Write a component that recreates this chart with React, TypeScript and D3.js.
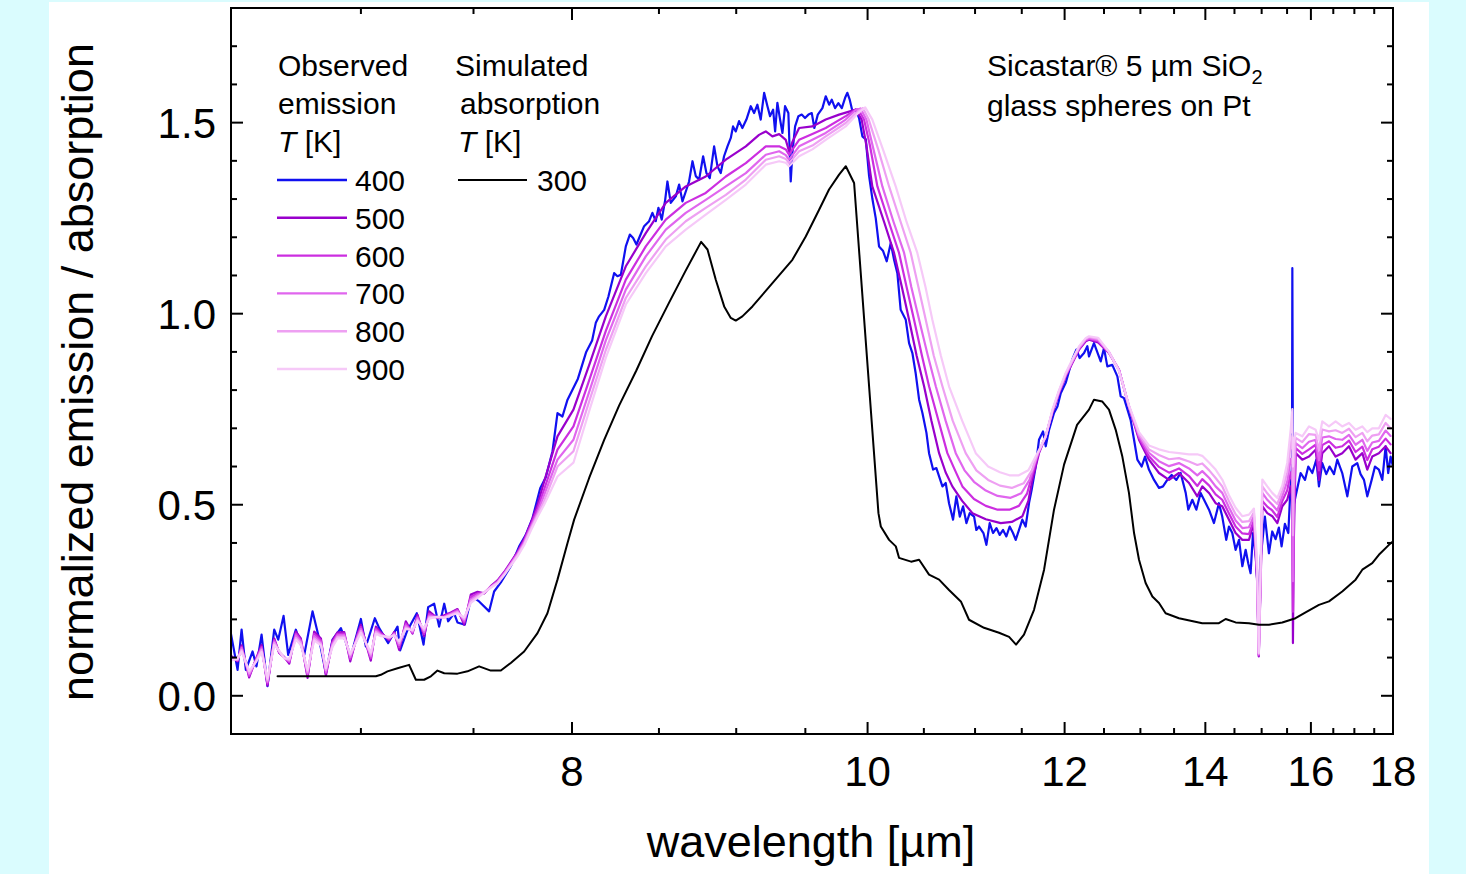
import React from 'react';
import * as d3 from 'd3';

const W = 1466;
const H = 874;
const FONT = '"Liberation Sans", Arial, Helvetica, sans-serif';

// ---- axis ticks (wavelength in µm, reciprocal axis) ----
const xTickMajor = [8, 10, 12, 14, 16, 18];
const xTickMinor = [7, 7.5, 8.5, 9, 9.5, 10.5, 11, 11.5, 12.5, 13, 13.5, 14.5, 15, 15.5, 16.5, 17, 17.5];
const yTickMajor = [0, 0.5, 1.0, 1.5];
const yTickLabels = ['0.0', '0.5', '1.0', '1.5'];
const yTickMinor = [0.1, 0.2, 0.3, 0.4, 0.6, 0.7, 0.8, 0.9, 1.1, 1.2, 1.3, 1.4, 1.6, 1.7];

// ---- legend ----
const obsTemps = ['400', '500', '600', '700', '800', '900'];
const obsColors = ['#1010f0', '#9900cc', '#cc2ee0', '#e066ee', '#eea0f2', '#f6c9f8'];
const simTemps = ['300'];

// ---- data: x = wavenumber [cm^-1], y = normalized emission / absorption ----
// low-wavenumber-side grid (6.5 – 7.85 µm) shared by 500–900 K
const nuLow = [1538.6, 1532.9, 1529.5, 1523.1, 1517.4, 1512.6, 1507.6, 1501.9, 1497.7, 1493.5, 1489.2, 1483.6, 1479.4, 1473.7, 1468.1, 1462.4, 1458.2, 1452.6, 1448.4, 1442.7, 1437.6, 1431.4, 1428.6, 1420.2, 1415.9, 1411.7, 1404.7, 1400.4, 1396.2, 1390.6, 1384.9, 1380.7, 1375.1, 1370.8, 1363.8, 1358.1, 1352.5, 1346.9, 1341.2, 1335.6, 1329.9, 1324.3, 1318.7, 1313.0, 1307.4, 1301.8, 1296.1, 1290.5, 1284.9, 1279.2, 1273.6];
const low500 = [0.105, 0.090, 0.132, 0.048, 0.096, 0.133, 0.027, 0.150, 0.112, 0.102, 0.084, 0.168, 0.150, 0.047, 0.168, 0.150, 0.052, 0.145, 0.166, 0.167, 0.090, 0.163, 0.186, 0.092, 0.181, 0.166, 0.145, 0.167, 0.120, 0.195, 0.163, 0.212, 0.156, 0.221, 0.203, 0.211, 0.218, 0.227, 0.186, 0.265, 0.272, 0.268, 0.287, 0.302, 0.324, 0.350, 0.377, 0.410, 0.452, 0.500, 0.560];
const low600 = [0.100, 0.092, 0.128, 0.052, 0.094, 0.128, 0.032, 0.146, 0.113, 0.100, 0.088, 0.163, 0.146, 0.053, 0.162, 0.145, 0.058, 0.140, 0.162, 0.163, 0.096, 0.159, 0.180, 0.098, 0.176, 0.163, 0.148, 0.164, 0.127, 0.189, 0.165, 0.207, 0.162, 0.215, 0.204, 0.208, 0.216, 0.225, 0.192, 0.259, 0.268, 0.269, 0.286, 0.300, 0.322, 0.347, 0.374, 0.406, 0.446, 0.490, 0.540];
const low700 = [0.098, 0.094, 0.125, 0.056, 0.092, 0.124, 0.036, 0.142, 0.115, 0.100, 0.091, 0.158, 0.142, 0.058, 0.156, 0.140, 0.063, 0.136, 0.158, 0.159, 0.101, 0.155, 0.175, 0.103, 0.171, 0.160, 0.150, 0.162, 0.133, 0.184, 0.167, 0.203, 0.167, 0.210, 0.205, 0.206, 0.214, 0.222, 0.197, 0.253, 0.264, 0.270, 0.285, 0.298, 0.320, 0.345, 0.371, 0.402, 0.441, 0.480, 0.525];
const low800 = [0.095, 0.095, 0.120, 0.060, 0.090, 0.120, 0.040, 0.138, 0.117, 0.099, 0.094, 0.152, 0.138, 0.063, 0.150, 0.136, 0.068, 0.132, 0.154, 0.155, 0.106, 0.151, 0.170, 0.108, 0.167, 0.158, 0.152, 0.160, 0.138, 0.179, 0.170, 0.199, 0.172, 0.206, 0.206, 0.205, 0.212, 0.219, 0.201, 0.248, 0.260, 0.270, 0.284, 0.296, 0.318, 0.343, 0.368, 0.398, 0.437, 0.474, 0.510];
const low900 = [0.092, 0.097, 0.116, 0.065, 0.088, 0.115, 0.045, 0.133, 0.118, 0.098, 0.097, 0.147, 0.133, 0.068, 0.145, 0.132, 0.073, 0.128, 0.150, 0.151, 0.110, 0.148, 0.165, 0.113, 0.163, 0.156, 0.154, 0.158, 0.143, 0.175, 0.172, 0.196, 0.176, 0.202, 0.207, 0.204, 0.210, 0.216, 0.205, 0.243, 0.256, 0.270, 0.283, 0.294, 0.316, 0.340, 0.365, 0.394, 0.432, 0.468, 0.500];

// band region (7.9 – 12.3 µm), per series
const mid500: [number, number][] = [[1262.3, 0.679], [1248.8, 0.749], [1235, 0.87], [1221.4, 0.993], [1204.5, 1.124], [1187.6, 1.211], [1170.7, 1.290], [1153.8, 1.333], [1136.9, 1.359], [1119.9, 1.403], [1103.0, 1.438], [1091.8, 1.468], [1086.1, 1.477], [1080.5, 1.464], [1074.8, 1.47], [1069.2, 1.455], [1066.4, 1.425], [1063.5, 1.45], [1057.9, 1.486], [1046.7, 1.490], [1035.4, 1.508], [1024.1, 1.521], [1010, 1.534], [1005, 1.508], [1001, 1.44], [996, 1.333], [986, 1.24], [977.6, 1.159], [971, 1.07], [964.9, 0.984], [958.5, 0.89], [952.2, 0.810], [946, 0.72], [939.5, 0.635], [934, 0.585], [928.3, 0.548], [920, 0.51], [911.3, 0.478], [900, 0.462], [887.4, 0.452], [878, 0.455], [869, 0.47], [864, 0.51], [860.6, 0.565], [855, 0.635], [849.3, 0.679], [843.7, 0.740], [838, 0.792], [832.4, 0.836], [826.8, 0.871], [821.1, 0.906], [815.5, 0.928]];
const mid600: [number, number][] = [[1262.3, 0.644], [1248.8, 0.705], [1235, 0.83], [1221.4, 0.955], [1204.5, 1.089], [1187.6, 1.176], [1170.7, 1.246], [1153.8, 1.290], [1136.9, 1.316], [1119.9, 1.359], [1103.0, 1.394], [1086.1, 1.438], [1074.8, 1.438], [1069.2, 1.43], [1066.4, 1.416], [1063.5, 1.43], [1057.9, 1.455], [1046.7, 1.47], [1035.4, 1.486], [1018.5, 1.517], [1010, 1.534], [1008, 1.535], [1003, 1.508], [998, 1.44], [991.7, 1.333], [982, 1.24], [973.4, 1.159], [967, 1.07], [960.7, 0.984], [954, 0.89], [948, 0.810], [940, 0.72], [932.5, 0.635], [926, 0.59], [919.8, 0.548], [910, 0.515], [900, 0.497], [890, 0.487], [880, 0.487], [872, 0.497], [865, 0.53], [860.6, 0.58], [855, 0.64], [849.3, 0.679], [843.7, 0.742], [838, 0.794], [832.4, 0.838], [826.8, 0.873], [821.1, 0.908], [815.5, 0.930]];
const mid700: [number, number][] = [[1262.3, 0.618], [1248.8, 0.67], [1235, 0.80], [1221.4, 0.93], [1204.5, 1.063], [1187.6, 1.150], [1170.7, 1.220], [1153.8, 1.264], [1136.9, 1.298], [1119.9, 1.333], [1103.0, 1.368], [1086.1, 1.416], [1074.8, 1.425], [1069.2, 1.415], [1066.4, 1.403], [1063.5, 1.415], [1057.9, 1.438], [1046.7, 1.455], [1035.4, 1.473], [1018.5, 1.508], [1010, 1.533], [1006, 1.537], [1001, 1.508], [995, 1.43], [987.5, 1.333], [978, 1.24], [969.1, 1.159], [963, 1.07], [956.4, 0.984], [949, 0.89], [942.3, 0.810], [934, 0.72], [925.4, 0.635], [918, 0.59], [910, 0.56], [900, 0.537], [890, 0.523], [879, 0.518], [870, 0.53], [863, 0.565], [857, 0.625], [849.3, 0.679], [843.7, 0.744], [838, 0.796], [832.4, 0.84], [826.8, 0.875], [821.1, 0.91], [815.5, 0.932]];
const mid800: [number, number][] = [[1262.3, 0.600], [1248.8, 0.64], [1235, 0.775], [1221.4, 0.905], [1204.5, 1.041], [1187.6, 1.124], [1170.7, 1.194], [1153.8, 1.242], [1136.9, 1.277], [1119.9, 1.311], [1103.0, 1.351], [1086.1, 1.403], [1074.8, 1.412], [1069.2, 1.405], [1066.4, 1.394], [1063.5, 1.405], [1057.9, 1.425], [1046.7, 1.44], [1035.4, 1.464], [1018.5, 1.499], [1008, 1.53], [1004, 1.538], [999, 1.508], [991, 1.43], [981.8, 1.333], [972, 1.24], [963.5, 1.159], [957, 1.07], [950.8, 0.984], [944, 0.89], [936.7, 0.810], [928, 0.72], [917, 0.635], [908, 0.59], [898, 0.565], [888, 0.55], [878, 0.544], [868, 0.556], [861, 0.59], [856, 0.635], [849.3, 0.679], [843.7, 0.746], [838, 0.798], [832.4, 0.842], [826.8, 0.877], [821.1, 0.912], [815.5, 0.934]];
const mid900: [number, number][] = [[1262.3, 0.574], [1248.8, 0.61], [1235, 0.75], [1221.4, 0.885], [1204.5, 1.024], [1187.6, 1.106], [1170.7, 1.176], [1153.8, 1.220], [1136.9, 1.259], [1119.9, 1.298], [1103.0, 1.338], [1086.1, 1.390], [1074.8, 1.399], [1069.2, 1.395], [1066.4, 1.386], [1063.5, 1.395], [1057.9, 1.412], [1046.7, 1.43], [1035.4, 1.455], [1018.5, 1.490], [1008, 1.525], [1002, 1.54], [996, 1.508], [987, 1.43], [976.2, 1.333], [967, 1.24], [957.9, 1.159], [951, 1.07], [945.2, 0.984], [938, 0.89], [931.1, 0.810], [920, 0.72], [908.5, 0.635], [898, 0.60], [888, 0.585], [880, 0.577], [872, 0.577], [864, 0.59], [858, 0.625], [853, 0.655], [849.3, 0.679], [843.7, 0.748], [838, 0.80], [832.4, 0.845], [826.8, 0.88], [821.1, 0.915], [815.5, 0.936]];

// long-wavelength grid (12.3 – 18 µm) shared by 500–900 K
const nuHigh = [812.7, 805, 795.8, 787.3, 778.9, 770.4, 762, 753.5, 745, 736.6, 728.1, 721.1, 716.9, 711, 705.6, 700, 694.3, 688.7, 683, 677.4, 673.2, 670.5, 669.1, 667.5, 666.1, 661.9, 657.7, 653.4, 649.2, 645, 642, 640.7, 640.2, 639.5, 637.9, 632.3, 626.6, 621, 618.2, 615.4, 609.7, 604.1, 598.5, 592.8, 587.2, 581.5, 577.3, 573.1, 567.5, 561.8, 557.6];
const high500 = [0.932, 0.925, 0.897, 0.853, 0.757, 0.670, 0.618, 0.583, 0.565, 0.583, 0.557, 0.522, 0.548, 0.53, 0.504, 0.496, 0.461, 0.426, 0.408, 0.408, 0.452, 0.30, 0.103, 0.30, 0.496, 0.478, 0.470, 0.452, 0.496, 0.513, 0.548, 0.50, 0.138, 0.40, 0.635, 0.618, 0.626, 0.644, 0.565, 0.635, 0.653, 0.626, 0.635, 0.653, 0.618, 0.635, 0.592, 0.626, 0.635, 0.653, 0.635];
const high600 = [0.934, 0.928, 0.898, 0.852, 0.757, 0.675, 0.627, 0.599, 0.584, 0.595, 0.575, 0.549, 0.567, 0.55, 0.527, 0.513, 0.477, 0.443, 0.425, 0.423, 0.46, 0.31, 0.106, 0.31, 0.51, 0.495, 0.485, 0.468, 0.51, 0.538, 0.585, 0.56, 0.22, 0.46, 0.648, 0.633, 0.645, 0.657, 0.59, 0.656, 0.666, 0.649, 0.653, 0.668, 0.638, 0.652, 0.617, 0.645, 0.652, 0.673, 0.658];
const high700 = [0.936, 0.931, 0.899, 0.852, 0.758, 0.68, 0.636, 0.614, 0.601, 0.609, 0.595, 0.577, 0.588, 0.57, 0.548, 0.531, 0.493, 0.459, 0.439, 0.441, 0.471, 0.32, 0.108, 0.32, 0.531, 0.513, 0.50, 0.485, 0.523, 0.561, 0.62, 0.62, 0.30, 0.53, 0.661, 0.648, 0.665, 0.67, 0.617, 0.676, 0.679, 0.672, 0.67, 0.683, 0.657, 0.67, 0.641, 0.663, 0.667, 0.694, 0.68];
const high800 = [0.939, 0.934, 0.90, 0.851, 0.759, 0.685, 0.645, 0.63, 0.619, 0.622, 0.613, 0.604, 0.608, 0.59, 0.57, 0.548, 0.509, 0.475, 0.455, 0.457, 0.48, 0.33, 0.11, 0.33, 0.548, 0.53, 0.515, 0.502, 0.537, 0.585, 0.66, 0.68, 0.42, 0.60, 0.675, 0.664, 0.685, 0.683, 0.643, 0.697, 0.692, 0.695, 0.688, 0.699, 0.677, 0.688, 0.666, 0.681, 0.684, 0.714, 0.70];
const high900 = [0.941, 0.937, 0.90, 0.85, 0.76, 0.69, 0.655, 0.645, 0.638, 0.635, 0.632, 0.632, 0.628, 0.61, 0.592, 0.566, 0.525, 0.492, 0.47, 0.474, 0.49, 0.35, 0.112, 0.35, 0.566, 0.548, 0.531, 0.518, 0.55, 0.61, 0.70, 0.75, 0.60, 0.66, 0.688, 0.679, 0.705, 0.696, 0.67, 0.718, 0.705, 0.718, 0.705, 0.714, 0.696, 0.705, 0.69, 0.70, 0.70, 0.735, 0.725];

// observed emission 400 K
const obs400: [number, number][] = [
  [1538.6, 0.164], [1532.9, 0.068], [1529.5, 0.173], [1525.9, 0.068], [1520.2, 0.116], [1516.9, 0.077], [1512.6, 0.160], [1507.6, 0.025], [1501.9, 0.173], [1498.5, 0.147], [1494.0, 0.209], [1490.1, 0.107], [1483.6, 0.173], [1476.5, 0.107], [1469.5, 0.221], [1464.7, 0.160], [1458.2, 0.059], [1452.6, 0.147], [1445.5, 0.177], [1437.1, 0.103], [1428.6, 0.201], [1424.4, 0.129], [1416.8, 0.203], [1413.1, 0.177], [1405.5, 0.138], [1397.6, 0.181], [1395.4, 0.119], [1389.7, 0.168], [1381.3, 0.216], [1375.6, 0.134], [1371.7, 0.232], [1366.6, 0.241], [1362.4, 0.181], [1358.1, 0.241], [1354.8, 0.195], [1349.7, 0.216], [1346.9, 0.192], [1340.7, 0.186], [1335.0, 0.260], [1328.6, 0.247], [1320.1, 0.221], [1315.9, 0.273], [1310.2, 0.297], [1301.8, 0.339], [1294.7, 0.391], [1289.1, 0.421], [1283.4, 0.465], [1276.9, 0.543], [1272.2, 0.572], [1266.5, 0.640], [1262.3, 0.740], [1258.1, 0.731], [1253.8, 0.775], [1245, 0.83], [1238, 0.90], [1233, 0.93],
  [1229.9, 0.976], [1227.1, 0.993], [1222.8, 1.010], [1219.2, 1.045], [1214.4, 1.106], [1211.6, 1.098], [1208.7, 1.102], [1204.5, 1.176], [1201.1, 1.207], [1198.3, 1.198], [1195.5, 1.181], [1192.7, 1.202], [1189.0, 1.229], [1184.8, 1.242], [1182.0, 1.264], [1179.2, 1.242], [1176.9, 1.277], [1174.1, 1.246], [1171.2, 1.298], [1169.3, 1.346], [1166.5, 1.290], [1162.2, 1.307], [1159.4, 1.338], [1156.6, 1.294], [1153.2, 1.325], [1151.0, 1.346], [1148.1, 1.399], [1145.3, 1.360], [1142.5, 1.351], [1139.1, 1.412], [1136.3, 1.368], [1133.5, 1.355], [1129.8, 1.438], [1127.0, 1.386], [1124.2, 1.368], [1121.4, 1.412], [1118.5, 1.438], [1115.7, 1.460], [1113.8, 1.490], [1111.5, 1.477], [1108.7, 1.504], [1105.9, 1.486], [1102.5, 1.508], [1098.8, 1.543], [1096.0, 1.525], [1093.2, 1.547], [1090.4, 1.508], [1087.5, 1.578], [1084.7, 1.543], [1082.5, 1.517], [1079.9, 1.534], [1078.2, 1.477], [1076.3, 1.552], [1074.0, 1.508], [1072.0, 1.473], [1069.8, 1.543], [1067.0, 1.525], [1065.0, 1.346], [1063.6, 1.421], [1061.3, 1.490], [1058.5, 1.517], [1055.7, 1.521], [1052.9, 1.512], [1050.0, 1.521], [1047.2, 1.525], [1045.0, 1.486], [1042.1, 1.521], [1038.2, 1.538], [1035.4, 1.569], [1032.5, 1.547], [1030.3, 1.560], [1027.5, 1.538], [1024.7, 1.551], [1021.8, 1.538], [1019.0, 1.565], [1017.1, 1.578], [1015.1, 1.560], [1012.8, 1.530], [1010.0, 1.534],
  [1007.2, 1.512], [1004.4, 1.464], [1001.5, 1.456], [998.7, 1.36], [995.9, 1.30], [993.1, 1.25], [990.3, 1.176], [987, 1.165], [983.8, 1.137], [980.4, 1.185], [977.5, 1.14], [974.8, 1.106], [972.0, 1.010], [967.7, 0.984], [964.9, 0.923], [962.1, 0.897], [959.3, 0.844], [956.4, 0.775], [953.6, 0.740], [950.2, 0.688], [948.0, 0.635], [944.6, 0.592], [941.8, 0.596], [939.5, 0.574], [936.7, 0.548], [933.9, 0.557], [931.1, 0.504], [927.7, 0.461], [924.9, 0.522], [922.0, 0.469], [919.2, 0.496], [916.4, 0.452], [913.6, 0.478], [909.9, 0.469], [908.0, 0.434], [905.7, 0.443], [902.0, 0.426], [899.5, 0.395], [896.7, 0.452], [893.9, 0.426], [891.0, 0.439], [888.2, 0.421], [885.4, 0.434], [882.6, 0.417], [879.8, 0.443], [877.0, 0.426], [874.7, 0.408], [871.9, 0.434], [869.1, 0.461], [866.3, 0.443], [863.4, 0.505], [861.2, 0.539], [857.8, 0.600], [855.0, 0.670], [851.6, 0.692], [849.3, 0.653], [846.5, 0.696], [842.3, 0.740], [839.4, 0.757], [836.6, 0.792], [832.4, 0.819], [826.8, 0.880], [823.4, 0.906], [820.6, 0.884], [816.9, 0.897], [814.1, 0.915],
  [812.7, 0.888], [808.5, 0.923], [802.8, 0.875], [800, 0.910], [797.2, 0.862], [793, 0.866], [788.7, 0.836], [785.9, 0.784], [783.1, 0.779], [777.5, 0.722], [774.6, 0.670], [771.8, 0.618], [768.2, 0.600], [765.3, 0.626], [762, 0.592], [757.7, 0.565], [753.5, 0.544], [750.1, 0.548], [746.5, 0.565], [742.8, 0.578], [738.8, 0.565], [735.2, 0.583], [730.9, 0.531], [728.7, 0.487], [725.3, 0.513], [721.9, 0.487], [718.3, 0.531], [715.4, 0.513], [711.2, 0.487], [707, 0.452], [702.8, 0.504], [700, 0.469], [696.6, 0.408], [694.3, 0.443], [691.5, 0.426], [688.7, 0.382], [685.8, 0.408], [683, 0.339], [680.2, 0.382], [678, 0.347], [676, 0.321], [674, 0.426], [671.5, 0.36], [669.5, 0.25], [667.5, 0.36], [663.9, 0.469], [660.5, 0.373], [657.7, 0.43], [654.9, 0.41], [652.1, 0.44], [649.8, 0.391], [647, 0.45], [644.1, 0.426], [642.2, 0.55], [641, 0.60], [640.7, 1.119], [640.2, 0.60], [639.5, 0.50], [637.4, 0.530], [633.7, 0.583], [630.0, 0.565], [627.2, 0.600], [623.8, 0.583], [620.4, 0.618], [618.2, 0.548], [615.4, 0.609], [612, 0.58], [609.2, 0.600], [605.5, 0.58], [602.7, 0.618], [598.5, 0.583], [594.2, 0.522], [590.0, 0.600], [585.8, 0.609], [583, 0.58], [580.1, 0.565], [577.3, 0.522], [573.6, 0.565], [570.8, 0.60], [567.5, 0.592], [564.6, 0.565], [561.8, 0.653], [559.6, 0.583], [557.6, 0.626], [555.6, 0.60],
];

// simulated absorption 300 K
const sim300: [number, number][] = [
  [1499.1, 0.051], [1415.9, 0.051], [1411.7, 0.055], [1406.1, 0.064], [1397.6, 0.072], [1387.8, 0.081], [1382.1, 0.042], [1375.1, 0.042], [1369.4, 0.051], [1363.8, 0.066], [1358.1, 0.059], [1346.9, 0.058], [1338.4, 0.064], [1328.6, 0.077], [1318.7, 0.066], [1310.2, 0.066], [1301.8, 0.086], [1290.5, 0.116], [1279.2, 0.164], [1270.8, 0.216], [1262.3, 0.304], [1253.8, 0.400], [1248.2, 0.461], [1235.5, 0.570], [1222.8, 0.670], [1210.1, 0.760], [1195.8, 0.850], [1182.2, 0.942], [1167.9, 1.029], [1154.3, 1.110], [1140.8, 1.188], [1135.4, 1.168], [1128.4, 1.089], [1121.3, 1.019], [1115.7, 0.989], [1111.5, 0.982], [1105.9, 0.993], [1097.4, 1.019], [1080.5, 1.080], [1063.6, 1.141], [1052.3, 1.202], [1041.0, 1.272], [1032.6, 1.325], [1024.1, 1.364], [1018.4, 1.386], [1011.4, 1.342], [990.8, 0.478], [988.8, 0.443], [981.8, 0.408], [976.1, 0.391], [973.4, 0.361], [963.2, 0.351], [956.4, 0.356], [948.0, 0.317], [939.5, 0.304], [931.1, 0.277], [920.9, 0.246], [914.2, 0.199], [901.5, 0.178], [888.8, 0.165], [880.3, 0.154], [874.4, 0.134], [867.7, 0.160], [859.2, 0.225], [850.7, 0.330], [842.3, 0.487], [833.8, 0.605], [822.8, 0.709], [812.7, 0.749], [808.5, 0.775], [801.4, 0.770], [795.8, 0.749], [790.1, 0.696], [784.5, 0.626], [778.9, 0.531], [774.6, 0.426], [770.4, 0.356], [764.8, 0.295], [759.1, 0.260], [753.5, 0.243], [747.9, 0.216], [736.6, 0.203], [716.9, 0.190], [702.8, 0.190], [697.1, 0.201], [688.7, 0.192], [677.4, 0.190], [668.9, 0.186], [660.5, 0.186], [649.2, 0.192], [638.0, 0.203], [629.5, 0.218], [618.2, 0.238], [609.7, 0.247], [598.5, 0.273], [587.2, 0.304], [581.5, 0.330], [573.1, 0.347], [567.5, 0.369], [559.0, 0.395], [555.6, 0.404],
];

const zip = (nu: number[], v: number[]): [number, number][] => {
  const n = Math.min(nu.length, v.length);
  const out: [number, number][] = [];
  for (let i = 0; i < n; i++) out.push([nu[i], v[i]]);
  return out;
};

export default function App() {
  const left = 231, right = 1393, top = 8, bottom = 734;
  // reciprocal wavelength axis = linear in wavenumber
  const x = d3.scaleLinear().domain([10000 / 6.5, 10000 / 18]).range([left, right]);
  const xl = (lam: number) => x(10000 / lam);
  const y = d3.scaleLinear().domain([-0.1, 1.8]).range([bottom, top]);
  const line = d3.line<[number, number]>().x(d => x(d[0])).y(d => y(d[1]));

  const series = [
    { T: obsTemps[0], color: obsColors[0], data: obs400 },
    { T: obsTemps[1], color: obsColors[1], data: [...zip(nuLow, low500), ...mid500, ...zip(nuHigh, high500)] },
    { T: obsTemps[2], color: obsColors[2], data: [...zip(nuLow, low600), ...mid600, ...zip(nuHigh, high600)] },
    { T: obsTemps[3], color: obsColors[3], data: [...zip(nuLow, low700), ...mid700, ...zip(nuHigh, high700)] },
    { T: obsTemps[4], color: obsColors[4], data: [...zip(nuLow, low800), ...mid800, ...zip(nuHigh, high800)] },
    { T: obsTemps[5], color: obsColors[5], data: [...zip(nuLow, low900), ...mid900, ...zip(nuHigh, high900)] },
  ];

  const majorLen = 12, minorLen = 6;
  const tickStroke = 2;
  const legY0 = 180, legDy = 37.8;

  return (
    <svg width={W} height={H} style={{ position: 'absolute', left: 0, top: 0 }} fontFamily={FONT}>
      <rect x={0} y={0} width={W} height={H} fill="#dafcfe" />
      <rect x={49} y={2} width={1380} height={H - 2} fill="#ffffff" />
      <defs>
        <clipPath id="plotClip">
          <rect x={left} y={top} width={right - left} height={bottom - top} />
        </clipPath>
      </defs>

      <g clipPath="url(#plotClip)" fill="none" strokeLinejoin="round" strokeLinecap="round">
        {series.map(s => (
          <path key={s.T} d={line(s.data) || ''} stroke={s.color} strokeWidth={2.2} />
        ))}
        <path d={line(sim300) || ''} stroke="#000" strokeWidth={2} />
      </g>

      {/* frame */}
      <rect x={left} y={top} width={right - left} height={bottom - top} fill="none" stroke="#000" strokeWidth={2} />

      {/* ticks, all pointing inward */}
      <g stroke="#000" strokeWidth={tickStroke}>
        {xTickMajor.map(t => (
          <g key={'xM' + t}>
            <line x1={xl(t)} x2={xl(t)} y1={bottom} y2={bottom - majorLen} />
            <line x1={xl(t)} x2={xl(t)} y1={top} y2={top + majorLen} />
          </g>
        ))}
        {xTickMinor.map(t => (
          <g key={'xm' + t}>
            <line x1={xl(t)} x2={xl(t)} y1={bottom} y2={bottom - minorLen} />
            <line x1={xl(t)} x2={xl(t)} y1={top} y2={top + minorLen} />
          </g>
        ))}
        {yTickMajor.map(t => (
          <g key={'yM' + t}>
            <line x1={left} x2={left + majorLen} y1={y(t)} y2={y(t)} />
            <line x1={right} x2={right - majorLen} y1={y(t)} y2={y(t)} />
          </g>
        ))}
        {yTickMinor.map(t => (
          <g key={'ym' + t}>
            <line x1={left} x2={left + minorLen} y1={y(t)} y2={y(t)} />
            <line x1={right} x2={right - minorLen} y1={y(t)} y2={y(t)} />
          </g>
        ))}
      </g>

      {/* tick labels */}
      <g fontSize={42} fill="#000">
        {xTickMajor.map(t => (
          <text key={'xl' + t} x={xl(t)} y={786} textAnchor="middle">{t}</text>
        ))}
        {yTickMajor.map((t, i) => (
          <text key={'yl' + t} x={216} y={y(t) + 15} textAnchor="end">{yTickLabels[i]}</text>
        ))}
      </g>

      {/* axis titles */}
      <text x={811} y={857} fontSize={45} textAnchor="middle">wavelength [µm]</text>
      <text transform="translate(93,372) rotate(-90)" fontSize={45} textAnchor="middle">normalized emission / absorption</text>

      {/* legend */}
      <g fontSize={30} fill="#000">
        <text x={278} y={76}>Observed</text>
        <text x={278} y={114}>emission</text>
        <text x={278} y={152}><tspan fontStyle="italic">T</tspan> [K]</text>
        {obsTemps.map((t, i) => (
          <g key={'leg' + t}>
            <line x1={277} x2={347} y1={legY0 + i * legDy} y2={legY0 + i * legDy} stroke={obsColors[i]} strokeWidth={2.4} />
            <text x={355} y={legY0 + i * legDy + 11}>{t}</text>
          </g>
        ))}
        <text x={455} y={76}>Simulated</text>
        <text x={460} y={114}>absorption</text>
        <text x={458} y={152}><tspan fontStyle="italic">T</tspan> [K]</text>
        {simTemps.map((t, i) => (
          <g key={'sleg' + t}>
            <line x1={458} x2={527} y1={legY0 + i * legDy} y2={legY0 + i * legDy} stroke="#000" strokeWidth={2} />
            <text x={537} y={legY0 + i * legDy + 11}>{t}</text>
          </g>
        ))}
        <text x={987} y={76}>Sicastar® 5 µm SiO<tspan fontSize={20} dy={8}>2</tspan></text>
        <text x={987} y={116}>glass spheres on Pt</text>
      </g>
    </svg>
  );
}
